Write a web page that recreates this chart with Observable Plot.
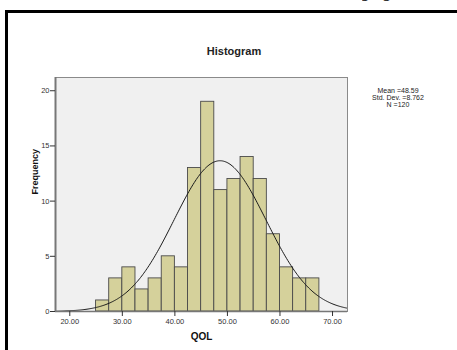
<!DOCTYPE html>
<html><head><meta charset="utf-8">
<script src="https://cdn.jsdelivr.net/npm/d3@7"></script>
<script src="https://cdn.jsdelivr.net/npm/@observablehq/plot@0.6"></script>
<style>
body{margin:0;background:#fff;font-family:"Liberation Sans",Arial,sans-serif;}
#wrap{position:relative;width:457px;height:350px;overflow:hidden;background:#fff;}
#chart{position:absolute;left:0;top:0;}
#btop{position:absolute;left:5px;top:10px;width:452px;height:3px;background:#000;}
#bleft{position:absolute;left:5px;top:10px;width:3px;height:340px;background:#000;}
#frag{position:absolute;left:362px;top:-9px;height:13px;overflow:hidden;font-family:"Liberation Serif",serif;font-style:italic;font-size:17px;line-height:17px;color:#222;}
#frag span{position:relative;top:-8px;}
#title{position:absolute;left:0;width:468px;top:45px;text-align:center;font-weight:bold;font-size:11px;color:#222;}
#legend{position:absolute;left:363px;width:70px;top:87px;text-align:center;font-size:7px;line-height:7px;color:#222;}
</style></head>
<body>
<div id="wrap">
  <div id="chart"></div>
  <div id="btop"></div>
  <div id="bleft"></div>
  <div id="frag"><span>ging</span></div>
  <div id="title">Histogram</div>
  <div id="legend"></div>
</div>
<script>
// Data
const binStarts = [25, 27.5, 30, 32.5, 35, 37.5, 40, 42.5, 45, 47.5, 50, 52.5, 55, 57.5, 60, 62.5, 65];
const counts    = [1, 3, 4, 2, 3, 5, 4, 13, 19, 11, 12, 14, 12, 7, 4, 3, 3];
const binWidth = 2.5;
const statLabels = ["Mean =48.59", "Std. Dev. =8.762", "N =120"];
const mean = 48.59, sd = 8.762, n = 120;
const xTicks = [20, 30, 40, 50, 60, 70];
const yTicks = [0, 5, 10, 15, 20];

const bins = binStarts.map((s, i) => ({x1: s, x2: s + binWidth, y: counts[i]}));
const xDomain = [17.28, 72.85];
const curve = d3.range(xDomain[0], xDomain[1] + 0.001, 0.2).map(x => ({
  x, y: n * binWidth / (sd * Math.sqrt(2 * Math.PI)) * Math.exp(-0.5 * ((x - mean) / sd) ** 2)
}));

const plot = Plot.plot({
  width: 457, height: 350,
  marginLeft: 55, marginRight: 110, marginTop: 77, marginBottom: 39,
  style: {fontFamily: '"Liberation Sans", Arial, sans-serif', background: "transparent"},
  x: {domain: xDomain},
  y: {domain: [0, 21.2]},
  marks: [
    Plot.frame({fill: "#f0f0f0", stroke: "none"}),
    Plot.rectY(bins, {x1: "x1", x2: "x2", y: "y", fill: "#d5d19b", stroke: "#4a4a4a", strokeWidth: 0.9}),
    Plot.line(curve, {x: "x", y: "y", stroke: "#1a1a1a", strokeWidth: 1, curve: "basis"}),
    Plot.frame({stroke: "#8a8a8a", strokeWidth: 1}),
    Plot.ruleX([xDomain[0]], {stroke: "#777", strokeWidth: 2}),
    Plot.ruleY([0], {stroke: "#777", strokeWidth: 1.5}),
    Plot.axisX({ticks: xTicks, tickFormat: d3.format(".2f"), tickSize: 5, tickPadding: 2, fontSize: 7.5, color: "#333", label: null}),
    Plot.axisY({ticks: yTicks, tickSize: 5, tickPadding: 1, fontSize: 7.5, color: "#333", label: null}),
    Plot.text(["QOL"], {frameAnchor: "bottom", dy: 28, fontWeight: "bold", fontSize: 10, fill: "#111"}),
    Plot.text(["Frequency"], {frameAnchor: "left", dx: -20, rotate: -90, fontWeight: "bold", fontSize: 9, fill: "#111"})
  ]
});
document.getElementById("chart").appendChild(plot);
document.getElementById("legend").innerHTML = statLabels.map(s => `<div>${s}</div>`).join("");
</script>
</body></html>
